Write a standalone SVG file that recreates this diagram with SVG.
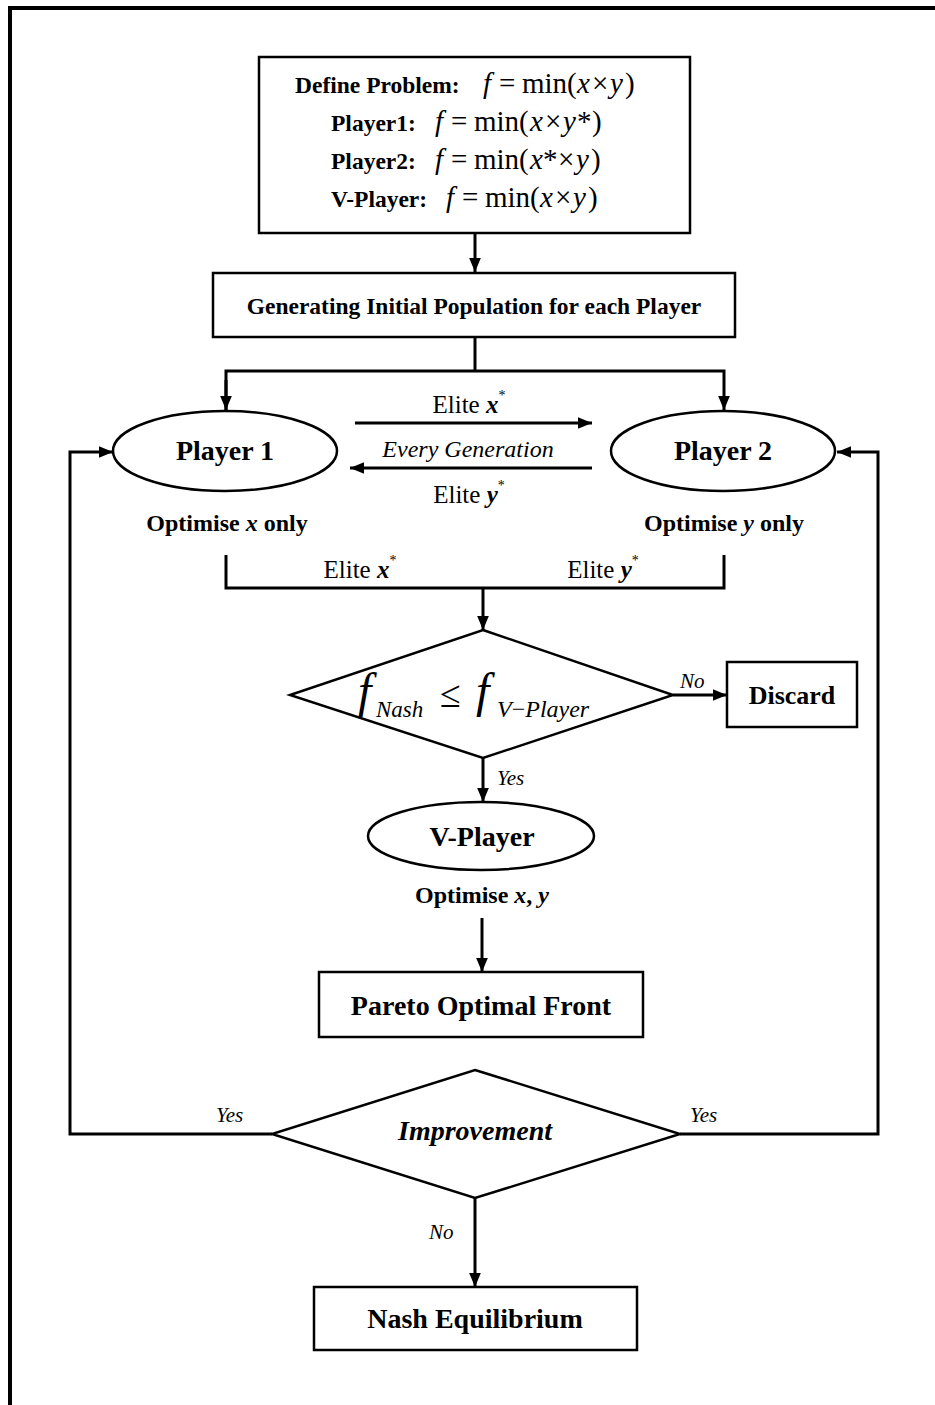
<svg xmlns="http://www.w3.org/2000/svg" width="935" height="1405" viewBox="0 0 935 1405">
<defs>
<marker id="ah2" viewBox="0 0 12 10" refX="12" refY="5" markerWidth="14" markerHeight="12" markerUnits="userSpaceOnUse" orient="auto">
<path d="M0,0 L12,5 L0,10 z" fill="#000"/>
</marker>
</defs>
<style>
text{font-family:"Liberation Serif","Times New Roman","DejaVu Serif",serif;fill:#000}
.b{font-weight:bold}
.i{font-style:italic}
.node{fill:#fff;stroke:#000;stroke-width:2.5}
.c{fill:none;stroke:#000;stroke-width:3}
.lab{font-size:24px;font-weight:bold;text-anchor:middle}
.big{font-size:28px;font-weight:bold;text-anchor:middle}
.yn{font-size:21px;font-style:italic}
.m{font-size:29px}
.dl{font-size:23.5px;font-weight:bold}
.el{font-size:25px;text-anchor:middle}
</style>
<rect width="935" height="1405" fill="#fff"/>
<path d="M10,1405 V8 H935" fill="none" stroke="#000" stroke-width="4"/>

<g id="connectors">
<line class="c" x1="475" y1="233" x2="475" y2="272" marker-end="url(#ah2)"/>
<polyline class="c" points="475,337 475,371"/>
<polyline class="c" points="226,410 226,371 724,371 724,410" marker-end="url(#ah2)"/>
<line class="c" x1="226" y1="380" x2="226" y2="410" marker-end="url(#ah2)"/>
<line class="c" x1="355" y1="423" x2="592" y2="423" marker-end="url(#ah2)"/>
<line class="c" x1="592" y1="468" x2="350" y2="468" marker-end="url(#ah2)"/>
<polyline class="c" points="226,555 226,588 724,588 724,555"/>
<line class="c" x1="483" y1="588" x2="483" y2="630" marker-end="url(#ah2)"/>
<line class="c" x1="673" y1="695" x2="727" y2="695" marker-end="url(#ah2)"/>
<line class="c" x1="483" y1="758" x2="483" y2="802" marker-end="url(#ah2)"/>
<line class="c" x1="482" y1="918" x2="482" y2="972" marker-end="url(#ah2)"/>
<polyline class="c" points="272,1134 70,1134 70,452 113,452" marker-end="url(#ah2)"/>
<polyline class="c" points="680,1134 878,1134 878,452 837,452" marker-end="url(#ah2)"/>
<line class="c" x1="475" y1="1198" x2="475" y2="1287" marker-end="url(#ah2)"/>
<text class="yn" x="216" y="1122">Yes</text>
<text class="yn" x="690" y="1122">Yes</text>
<text class="yn" x="429" y="1239">No</text>
<text class="yn" x="680" y="688">No</text>
<text class="yn" x="497" y="785">Yes</text>
<text class="el" x="469" y="413">Elite <tspan class="i b">x</tspan><tspan font-size="14" dy="-13">*</tspan></text>
<text class="el i" x="468" y="457" style="font-size:24px">Every Generation</text>
<text class="el" x="469" y="503">Elite <tspan class="i b">y</tspan><tspan font-size="14" dy="-13">*</tspan></text>
<text class="el" x="360" y="578">Elite <tspan class="i b">x</tspan><tspan font-size="14" dy="-13">*</tspan></text>
<text class="el" x="603" y="578">Elite <tspan class="i b">y</tspan><tspan font-size="14" dy="-13">*</tspan></text>
</g>

<g id="define">
<rect class="node" x="259" y="57" width="431" height="176"/>
<text class="dl" x="295" y="93">Define Problem:</text>
<text class="m" y="93"><tspan class="i" x="483">f</tspan><tspan x="499">=</tspan><tspan x="522">min(</tspan><tspan class="i" x="577">x</tspan><tspan x="592">×</tspan><tspan class="i" x="610">y</tspan><tspan x="625">)</tspan></text>
<text class="dl" x="331" y="131">Player1:</text>
<text class="m" y="131"><tspan class="i" x="435">f</tspan><tspan x="451">=</tspan><tspan x="474">min(</tspan><tspan class="i" x="530">x</tspan><tspan x="545">×</tspan><tspan class="i" x="563">y</tspan><tspan x="577">*</tspan><tspan x="592">)</tspan></text>
<text class="dl" x="331" y="169">Player2:</text>
<text class="m" y="169"><tspan class="i" x="435">f</tspan><tspan x="451">=</tspan><tspan x="474">min(</tspan><tspan class="i" x="530">x</tspan><tspan x="543">*</tspan><tspan x="558">×</tspan><tspan class="i" x="576">y</tspan><tspan x="591">)</tspan></text>
<text class="dl" x="331" y="207">V-Player:</text>
<text class="m" y="207"><tspan class="i" x="446">f</tspan><tspan x="462">=</tspan><tspan x="485">min(</tspan><tspan class="i" x="540">x</tspan><tspan x="555">×</tspan><tspan class="i" x="573">y</tspan><tspan x="588">)</tspan></text>
</g>

<g id="init">
<rect class="node" x="213" y="273" width="522" height="64"/>
<text class="b" x="474" y="314" font-size="23.5" text-anchor="middle">Generating Initial Population for each Player</text>
</g>

<g id="player1">
<ellipse class="node" cx="225" cy="451" rx="112" ry="40"/>
<text class="big" x="225" y="460">Player 1</text>
<text class="lab" x="227" y="531">Optimise <tspan class="i">x</tspan> only</text>
</g>

<g id="player2">
<ellipse class="node" cx="723" cy="451" rx="112" ry="40"/>
<text class="big" x="723" y="460">Player 2</text>
<text class="lab" x="724" y="531">Optimise <tspan class="i">y</tspan> only</text>
</g>

<g id="nashcheck">
<polygon class="node" points="483,630 673,695 483,758 290,695"/>
<text y="707"><tspan class="i" font-size="48" x="358">f</tspan><tspan class="i" font-size="23" x="376" dy="10">Nash</tspan><tspan font-size="38" x="440" dy="-10">≤</tspan><tspan class="i" font-size="48" x="476">f</tspan><tspan class="i" font-size="24" x="497" dy="10">V</tspan><tspan font-size="24">−</tspan><tspan class="i" font-size="24">Player</tspan></text>
</g>

<g id="discard">
<rect class="node" x="727" y="662" width="130" height="65"/>
<text class="big" x="792" y="704" style="font-size:26px">Discard</text>
</g>

<g id="vplayer">
<ellipse class="node" cx="481" cy="836" rx="113" ry="34"/>
<text class="big" x="482" y="846">V-Player</text>
<text class="lab" x="482" y="903">Optimise <tspan class="i">x</tspan>, <tspan class="i">y</tspan></text>
</g>

<g id="pareto">
<rect class="node" x="319" y="972" width="324" height="65"/>
<text class="big" x="481" y="1015">Pareto Optimal Front</text>
</g>

<g id="improvement">
<polygon class="node" points="475,1070 680,1134 475,1198 272,1134"/>
<text class="b i" x="475" y="1140" font-size="28" text-anchor="middle">Improvement</text>
</g>

<g id="nash">
<rect class="node" x="314" y="1287" width="323" height="63"/>
<text class="big" x="475" y="1328">Nash Equilibrium</text>
</g>
</svg>
